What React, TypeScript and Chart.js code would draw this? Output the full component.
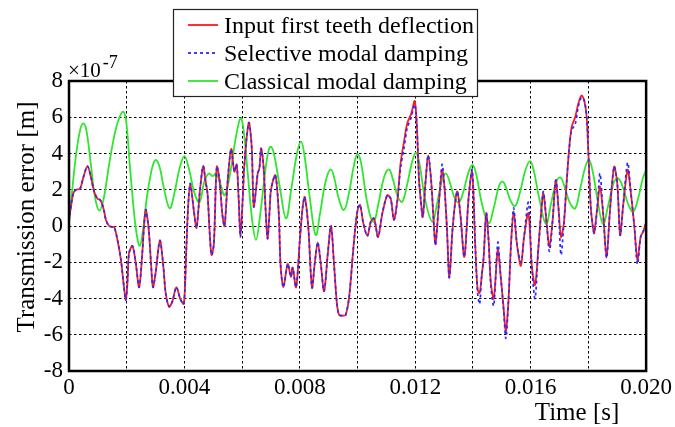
import React, { useEffect, useRef } from 'react';
import { Chart, registerables } from 'chart.js';

Chart.register(...registerables);

// time samples (ms) of the deflection curves
const timeMs = [
  0.00, 0.08, 0.15, 0.24, 0.38, 0.50, 0.64, 0.76, 0.87, 0.99, 1.07, 1.14, 1.22, 1.28, 1.39, 1.50, 1.57, 1.68, 1.80, 1.90,
  1.97, 2.03, 2.08, 2.20, 2.31, 2.43, 2.54, 2.60, 2.66, 2.72, 2.77, 2.84, 2.91, 3.00, 3.15, 3.27, 3.35, 3.47, 3.58, 3.72,
  3.87, 3.98, 4.06, 4.12, 4.20, 4.33, 4.42, 4.54, 4.65, 4.73, 4.80, 4.88, 4.94, 5.02, 5.12, 5.22, 5.31, 5.39, 5.50, 5.62,
  5.73, 5.81, 5.88, 5.94, 6.02, 6.08, 6.23, 6.33, 6.40, 6.48, 6.54, 6.60, 6.66, 6.75, 6.81, 6.88, 6.95, 7.00, 7.15, 7.27,
  7.33, 7.43, 7.58, 7.69, 7.75, 7.87, 8.00, 8.10, 8.17, 8.29, 8.42, 8.52, 8.62, 8.72, 8.84, 8.97, 9.08, 9.18, 9.28, 9.36,
  9.50, 9.59, 9.71, 9.85, 9.95, 10.02, 10.09, 10.20, 10.34, 10.46, 10.57, 10.71, 10.86, 11.03, 11.15, 11.26, 11.38, 11.49, 11.61, 11.72,
  11.86, 11.98, 12.05, 12.13, 12.19, 12.26, 12.36, 12.45, 12.55, 12.64, 12.70, 12.81, 12.93, 13.01, 13.10, 13.18, 13.30, 13.45, 13.56, 13.70,
  13.85, 13.97, 14.08, 14.16, 14.23, 14.30, 14.37, 14.46, 14.54, 14.62, 14.72, 14.86, 14.95, 15.06, 15.14, 15.23, 15.32, 15.41, 15.52, 15.66,
  15.77, 15.92, 16.04, 16.15, 16.27, 16.36, 16.44, 16.56, 16.65, 16.76, 16.87, 16.96, 17.05, 17.15, 17.25, 17.33, 17.42, 17.54, 17.65, 17.76,
  17.86, 17.94, 18.00, 18.08, 18.15, 18.20, 18.31, 18.40, 18.51, 18.63, 18.74, 18.89, 19.00, 19.10, 19.20, 19.36, 19.46, 19.59, 19.70, 19.81,
  19.90, 20.00,
];

// Input first teeth deflection (x1e-7 m)
const inputDeflection = [
  0.3, 1.2, 1.8, 2.0, 2.05, 2.7, 3.3, 2.7, 1.9, 1.5, 1.45, 1.25, 0.8, 0.33, 0.0, -0.05, -0.07, -0.77, -1.87, -3.3,
  -4.08, -3.0, -1.5, -1.1, -2.0, -3.38, -1.5, 0.0, 0.9, 0.4, -0.3, -2.0, -3.38, -2.6, -0.8, -2.24, -3.7, -4.45, -4.17, -3.38,
  -4.08, -4.3, -1.5, 0.8, 2.35, 0.8, -0.1, 2.0, 3.3, 2.5, 1.8, -0.5, -1.6, -1.0, 3.27, 2.5, 0.7, 0.0, 2.5, 4.25,
  3.0, 3.4, 1.5, -0.6, 1.5, 3.45, 5.7, 4.4, 1.07, 2.0, 2.9, 3.2, 4.28, 3.1, 1.0, -0.7, 0.8, 2.0, 2.8, 0.7,
  -2.1, -3.38, -2.1, -2.8, -2.3, -3.38, -0.77, 1.07, 1.6, 0.0, -3.4, -2.0, -0.9, -2.0, -3.6, -1.5, 0.0, -2.0, -4.2, -4.9,
  -4.95, -4.9, -3.9, -1.3, 0.3, 1.0, 1.16, 0.15, -0.55, 0.24, 0.42, -0.6, 0.7, 1.7, 1.5, 0.33, 1.43, 3.45, 4.65, 5.66,
  6.2, 6.9, 5.66, 2.53, 1.43, 0.5, 2.53, 3.9, 2.5, 0.2, -1.0, 1.07, 3.1, 2.17, -0.22, -2.85, 0.0, 1.9, 0.7, -1.7,
  1.6, 3.0, -1.14, -3.5, -3.7, -2.8, -1.7, 0.7, -0.77, -3.16, -4.0, -1.3, -2.6, -4.5, -5.8, -4.1, -0.95, 0.8, -0.95, -2.2,
  -0.6, 0.7, -2.24, -3.25, -1.14, 0.7, 1.8, 0.0, -1.14, 0.33, 2.53, 1.07, -0.6, 0.15, 2.5, 4.2, 5.47, 6.0, 6.75, 7.2,
  6.9, 6.0, 4.0, 1.07, 0.0, -0.4, 1.07, 2.17, 0.7, -1.75, 0.7, 3.27, 2.35, -0.5, 1.07, 3.1, 2.0, 0.0, -1.87, -0.6,
  -0.3, 0.2,
];

// Selective modal damping (x1e-7 m)
const selectiveDamping = [
  0.3, 1.2, 1.8, 2.0, 2.05, 2.7, 3.3, 2.7, 1.9, 1.5, 1.45, 1.25, 0.8, 0.33, 0.0, -0.05, -0.07, -0.77, -1.87, -3.3,
  -4.08, -3.0, -1.5, -1.1, -2.0, -3.38, -1.5, 0.0, 0.9, 0.4, -0.3, -2.0, -3.38, -2.6, -0.8, -2.24, -3.7, -4.45, -4.17, -3.38,
  -4.08, -4.3, -1.5, 0.8, 2.35, 0.8, -0.1, 2.0, 3.3, 2.5, 1.8, -0.5, -1.6, -1.0, 3.27, 2.5, 0.7, 0.0, 2.5, 4.25,
  3.0, 3.4, 1.5, -0.6, 1.5, 3.45, 5.7, 4.4, 1.07, 2.0, 2.9, 3.2, 4.28, 3.1, 1.0, -0.7, 0.8, 2.0, 2.8, 0.7,
  -2.1, -3.38, -2.1, -2.8, -2.3, -3.38, -0.77, 1.07, 1.6, 0.0, -3.4, -2.0, -0.9, -2.0, -3.6, -1.5, 0.0, -2.0, -4.2, -4.9,
  -4.95, -4.9, -3.9, -1.3, 0.3, 1.0, 1.16, 0.15, -0.55, 0.24, 0.42, -0.6, 0.7, 1.7, 1.5, 0.33, 1.43, 3.2, 4.3, 5.4,
  6.0, 6.7, 5.66, 2.53, 1.43, 0.5, 2.53, 3.9, 2.5, 0.2, -1.05, 1.07, 3.4, 2.17, -0.22, -2.85, 0.0, 1.9, 0.7, -1.7,
  1.6, 3.1, -1.14, -3.7, -4.3, -2.8, -1.7, 0.7, -0.77, -3.3, -4.4, -0.9, -2.6, -4.6, -6.2, -4.1, -0.95, 1.0, -0.95, -2.0,
  -0.6, 1.3, -2.24, -4.0, -1.14, 0.7, 1.9, 0.0, -1.4, 0.33, 2.53, 1.07, -1.6, 0.15, 2.5, 4.2, 5.3, 5.6, 6.6, 7.1,
  6.9, 6.0, 4.0, 1.07, 0.0, -0.4, 1.07, 2.9, 0.7, -1.75, 0.7, 3.27, 2.35, -0.5, 1.07, 3.5, 2.0, 0.0, -2.1, -0.6,
  -0.3, 0.2,
];

// time samples (ms) of the classical modal damping curve
const classicalTimeMs = [
  0.00, 0.10, 0.25, 0.40, 0.50, 0.60, 0.75, 0.90, 1.05, 1.20, 1.40, 1.60, 1.75, 1.88, 1.98, 2.10, 2.25, 2.35, 2.45, 2.55,
  2.70, 2.85, 2.95, 3.03, 3.15, 3.30, 3.49, 3.65, 3.85, 4.00, 4.15, 4.35, 4.52, 4.70, 4.85, 4.98, 5.10, 5.25, 5.39, 5.55,
  5.75, 5.90, 5.97, 6.05, 6.20, 6.35, 6.48, 6.60, 6.80, 6.92, 7.00, 7.10, 7.30, 7.52, 7.70, 7.90, 8.04, 8.15, 8.35, 8.55,
  8.70, 8.90, 9.07, 9.20, 9.35, 9.53, 9.70, 9.88, 10.00, 10.12, 10.30, 10.45, 10.57, 10.72, 10.92, 11.09, 11.22, 11.40, 11.55, 11.72,
  11.90, 12.03, 12.15, 12.35, 12.59, 12.75, 12.92, 13.05, 13.18, 13.35, 13.50, 13.65, 13.85, 13.99, 14.12, 14.30, 14.54, 14.72, 14.90, 15.03,
  15.15, 15.30, 15.46, 15.62, 15.82, 15.98, 16.10, 16.30, 16.53, 16.70, 16.88, 17.02, 17.15, 17.35, 17.54, 17.72, 17.90, 18.02, 18.15, 18.33,
  18.51, 18.68, 18.88, 19.03, 19.18, 19.38, 19.55, 19.72, 19.88, 20.00,
];

// Classical modal damping (x1e-7 m)
const classicalDamping = [
  0.2, 1.8, 4.0, 5.4, 5.66, 5.3, 3.5, 1.6, 0.85, 1.5, 3.5, 5.2, 6.0, 6.3, 5.8, 3.5, 0.8, -0.5, -1.1, -0.4,
  1.6, 3.0, 3.55, 3.64, 3.2, 2.0, 0.97, 1.8, 3.3, 3.86, 3.2, 1.8, 1.3, 2.5, 2.9, 2.75, 2.9, 2.3, 1.7, 2.6,
  4.6, 5.8, 5.93, 5.3, 2.8, 0.3, -0.77, 0.3, 3.0, 4.2, 4.37, 4.0, 2.2, 0.42, 2.0, 4.0, 4.65, 4.0, 1.5, -0.5,
  0.7, 2.5, 3.12, 2.6, 1.5, 0.88, 1.8, 3.4, 3.97, 3.5, 1.6, 0.5, 0.24, 1.2, 2.7, 3.12, 2.6, 1.6, 1.34, 2.3,
  3.6, 4.04, 3.4, 1.4, 0.24, 1.2, 2.5, 2.9, 2.5, 1.6, 1.29, 1.8, 3.0, 3.36, 2.8, 1.3, 0.15, 1.0, 2.2, 2.45,
  2.1, 1.4, 1.1, 1.8, 3.1, 3.58, 3.1, 1.5, 0.11, 1.2, 2.4, 2.68, 2.3, 1.3, 0.97, 2.1, 3.3, 3.64, 3.0, 1.3,
  0.11, 1.1, 2.4, 2.63, 2.2, 1.2, 0.79, 1.5, 2.6, 3.1,
];

const xTickLabels = ['0', '0.004', '0.008', '0.012', '0.016', '0.020'];
const yTickLabels = ['-8', '-6', '-4', '-2', '0', '2', '4', '6', '8'];
const legendLabels = ['Input first teeth deflection', 'Selective modal damping', 'Classical modal damping'];
const seriesColors = ['#ff1a1a', '#2a2aff', '#2ee62e'];

const SERIF = '"Liberation Serif", "Times New Roman", serif';

const decorPlugin = {
  id: 'decor',
  afterDatasetsDraw(chart: any) {
    const { ctx, chartArea } = chart;
    ctx.save();
    ctx.strokeStyle = '#000';
    ctx.lineWidth = 2.5;
    ctx.strokeRect(chartArea.left, chartArea.top, chartArea.right - chartArea.left, chartArea.bottom - chartArea.top);
    ctx.restore();
  },
  afterDraw(chart: any) {
    const { ctx, chartArea } = chart;
    ctx.save();
    ctx.fillStyle = '#000';
    // exponent label
    ctx.font = `21px ${SERIF}`;
    ctx.textAlign = 'left';
    ctx.textBaseline = 'alphabetic';
    ctx.fillText('\u00d710', chartArea.left - 1, 77);
    const w = ctx.measureText('\u00d710').width;
    ctx.font = `18px ${SERIF}`;
    ctx.fillText('-7', chartArea.left + w + 1, 68);

    // y title
    ctx.save();
    ctx.font = `25px ${SERIF}`;
    ctx.translate(34, 217);
    ctx.rotate(-Math.PI / 2);
    ctx.textAlign = 'center';
    ctx.fillText('Transmission error [m]', 0, 0);
    ctx.restore();

    // x title
    ctx.font = `25px ${SERIF}`;
    ctx.textAlign = 'center';
    ctx.fillText('Time [s]', 577, 420);

    // legend
    const bx = 173.5, by = 9.5, bw = 304, bh = 87;
    ctx.fillStyle = '#fff';
    ctx.fillRect(bx, by, bw, bh);
    ctx.strokeStyle = '#222';
    ctx.lineWidth = 1.2;
    ctx.strokeRect(bx, by, bw, bh);
    ctx.font = `24px ${SERIF}`;
    ctx.textAlign = 'left';
    legendLabels.forEach((label, i) => {
      const base = 33 + i * 28;
      const ly = base - 8;
      ctx.strokeStyle = seriesColors[i];
      ctx.lineWidth = 1.8;
      ctx.setLineDash(i === 1 ? [3, 3] : []);
      ctx.beginPath();
      ctx.moveTo(188, ly);
      ctx.lineTo(218, ly);
      ctx.stroke();
      ctx.setLineDash([]);
      ctx.fillStyle = '#000';
      ctx.fillText(label, 224, base);
    });
    ctx.restore();
  },
};

export default function App() {
  const ref = useRef<HTMLCanvasElement | null>(null);

  useEffect(() => {
    if (!ref.current) return;
    const toPts = (ts: number[], vs: number[]) => ts.map((t, i) => ({ x: t / 1000, y: vs[i] }));
    const chart = new Chart(ref.current, {
      type: 'line',
      data: {
        datasets: [
          {
            label: legendLabels[1],
            data: toPts(timeMs, selectiveDamping),
            borderColor: seriesColors[1],
            borderWidth: 1.7,
            borderDash: [3, 3],
            pointRadius: 0,
            tension: 0.3,
            fill: false,
          },
          {
            label: legendLabels[0],
            data: toPts(timeMs, inputDeflection),
            borderColor: seriesColors[0],
            borderWidth: 1.8,
            pointRadius: 0,
            tension: 0.3,
            fill: false,
          },
          {
            label: legendLabels[2],
            data: toPts(classicalTimeMs, classicalDamping),
            borderColor: seriesColors[2],
            borderWidth: 1.8,
            pointRadius: 0,
            tension: 0.4,
            fill: false,
          },
        ],
      },
      options: {
        animation: false,
        responsive: false,
        maintainAspectRatio: false,
        devicePixelRatio: 1,
        layout: { padding: { left: 0, right: 28, top: 81, bottom: 0 } },
        plugins: { legend: { display: false }, tooltip: { enabled: false }, title: { display: false } },
        scales: {
          x: {
            type: 'linear',
            min: 0,
            max: 0.02,
            afterFit: (s: any) => { s.height = 56; },
            afterBuildTicks: (s: any) => {
              s.ticks = xTickLabels.flatMap((_, i) => (i < xTickLabels.length - 1 ? [i * 0.004, i * 0.004 + 0.002] : [i * 0.004])).map((v) => ({ value: v }));
            },
            ticks: {
              autoSkip: false,
              maxRotation: 0,
              padding: 3,
              color: '#000',
              font: { family: SERIF, size: 23 },
              callback: (_v: any, i: number) => (i % 2 === 0 ? xTickLabels[i / 2] : ''),
            },
            grid: { color: '#000', lineWidth: 1, drawTicks: false },
            border: { display: false, dash: [2.5, 2.5] },
          },
          y: {
            type: 'linear',
            min: -8,
            max: 8,
            afterFit: (s: any) => { s.width = 69; },
            afterBuildTicks: (s: any) => {
              s.ticks = yTickLabels.map((_, i) => ({ value: -8 + i * 2 }));
            },
            ticks: {
              autoSkip: false,
              padding: 6,
              color: '#000',
              font: { family: SERIF, size: 23 },
              callback: (_v: any, i: number) => yTickLabels[i],
            },
            grid: { color: '#000', lineWidth: 1, drawTicks: false },
            border: { display: false, dash: [2.5, 2.5] },
          },
        },
      },
      plugins: [decorPlugin],
    } as any);
    return () => chart.destroy();
  }, []);

  return (
    <div style={{ position: 'fixed', left: 0, top: 0, width: 675, height: 427, background: '#fff' }}>
      <canvas ref={ref} width={675} height={427} style={{ width: 675, height: 427, display: 'block' }} />
    </div>
  );
}
